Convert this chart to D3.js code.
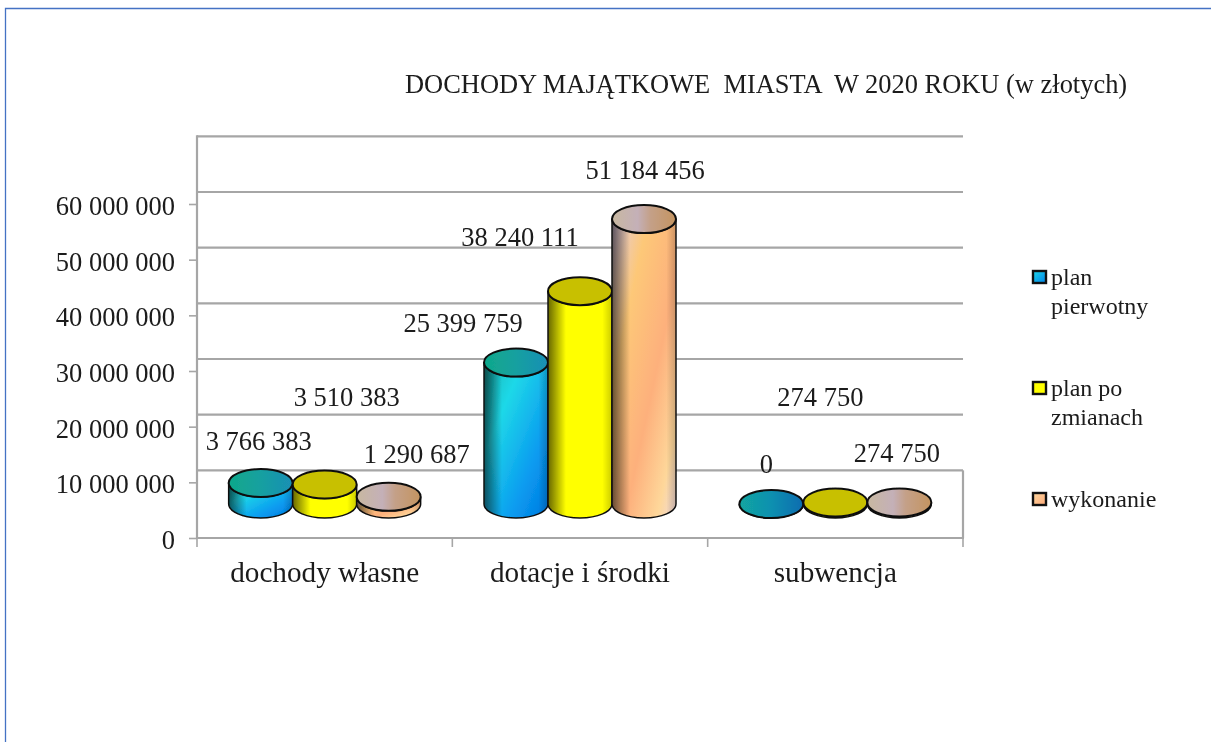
<!DOCTYPE html>
<html><head><meta charset="utf-8">
<style>html,body{margin:0;padding:0;background:#fff}svg{display:block}text{font-family:"Liberation Serif","Times New Roman",serif;fill:#1a1a1a}</style>
<script src="https://cdn.jsdelivr.net/npm/d3@7"></script></head><body>
<script>
const categories=["dochody własne","dotacje i środki","subwencja"];
const seriesNames=["plan pierwotny","plan po zmianach","wykonanie"];
const planPierwotny=[3766383,25399759,0];
const planPoZmianach=[3510383,38240111,274750];
const wykonanie=[1290687,51184456,274750];
const yTicks=[0,10000000,20000000,30000000,40000000,50000000,60000000];
const gridValues=[10000000,20000000,30000000,40000000,50000000,60000000,70000000];
const titleText="DOCHODY MAJĄTKOWE  MIASTA  W 2020 ROKU (w złotych)";

const W=1211,H=742;
const svg=d3.select("body").append("svg").attr("width",W).attr("height",H);
const defs=svg.append("defs");
function lin(id,x1,y1,x2,y2,stops){
  const g=defs.append("linearGradient").attr("id",id).attr("x1",x1).attr("y1",y1).attr("x2",x2).attr("y2",y2);
  stops.forEach(s=>g.append("stop").attr("offset",s[0]).attr("stop-color",s[1]).attr("stop-opacity",s[2]===undefined?1:s[2]));
}
lin("b0",0,0,1,1,[[0,"#12b5b0"],[.3,"#1fd8e8"],[.7,"#0a9cf0"],[1,"#0078e0"]]);
lin("t0",0,0,1,0,[[0,"#0fa88a"],[.5,"#17a0a0"],[1,"#1a8fb5"]]);
lin("t0z",0,0,1,0,[[0,"#12a5a0"],[.5,"#1090b0"],[1,"#0a6cb0"]]);
lin("b1",0,0,1,0,[[0,"#ffff00"],[1,"#ffff00"]]);
lin("t1",0,0,1,0,[[0,"#c8c000"],[1,"#c8c000"]]);
lin("b2",0,0,1,1,[[0,"#e0cce8"],[.28,"#fdc878"],[.6,"#fdb07c"],[.85,"#fed79a"],[1,"#f0d8d8"]]);
lin("t2",0,0,1,0,[[0,"#c8b8a0"],[.4,"#c4b0b8"],[.6,"#c4a088"],[1,"#c49460"]]);
lin("shade",0,0,1,0,[[0,"#000",.6],[.28,"#000",0],[.85,"#000",0],[1,"#000",.2]]);
lin("sw0",0,0,1,1,[[0,"#1fd8e8"],[1,"#0080e8"]]);
lin("sw1",0,0,1,1,[[0,"#ffff00"],[1,"#ffff00"]]);
lin("sw2",0,0,1,1,[[0,"#fdd8a0"],[1,"#fda878"]]);
const mkBlur=(id,sd)=>defs.append("filter").attr("id",id).attr("x","-5%").attr("y","-5%").attr("width","110%").attr("height","110%")
  .append("feGaussianBlur").attr("stdDeviation",sd);
mkBlur("soft",.5);mkBlur("softText",.35);

// page frame
svg.append("path").attr("d",`M5.5,${H}V8.5H${W}`).attr("fill","none").attr("stroke","#4472c4").attr("stroke-width",1.3);

const y=d3.scaleLinear().domain([0,60000000]).range([538,204]);
const wallShift=-12, baseShift=-34;
const x0=d3.scaleBand().domain(categories).range([197,963]);
const x1=d3.scaleBand().domain(d3.range(3)).range([x0.bandwidth()/2-96,x0.bandwidth()/2+96]);
const rx=32,ry=14;
const gridCol="#a6a6a6";
const fmt=d=>d3.format(",")(d).replace(/,/g," ");

const chart=svg.append("g").attr("filter","url(#soft)");
chart.append("g").selectAll("line").data(gridValues).join("line")
  .attr("x1",197).attr("x2",963).attr("y1",d=>y(d)+wallShift).attr("y2",d=>y(d)+wallShift)
  .attr("stroke",gridCol).attr("stroke-width",2.2);
chart.append("line").attr("x1",197).attr("x2",197).attr("y1",y(70000000)+wallShift-1).attr("y2",538).attr("stroke",gridCol).attr("stroke-width",2.2);
chart.append("line").attr("x1",963).attr("x2",963).attr("y1",y(10000000)+wallShift).attr("y2",538).attr("stroke",gridCol).attr("stroke-width",2.2);
chart.append("line").attr("x1",196).attr("x2",964).attr("y1",538).attr("y2",538).attr("stroke",gridCol).attr("stroke-width",2.2);

// y axis ticks + labels
const yAxis=d3.axisLeft(y).tickValues(yTicks).tickSize(8).tickPadding(14).tickFormat(fmt);
const ga=svg.append("g").attr("transform","translate(197,0)").attr("filter","url(#softText)").call(yAxis);
ga.select(".domain").remove();
ga.selectAll("line").attr("stroke",gridCol).attr("stroke-width",1.6);
ga.selectAll("text").attr("font-size",26.5).attr("fill","#1a1a1a").attr("dy","0.4em");

// x axis ticks + labels
const xTicks=[...categories.map(c=>x0(c)),963];
chart.append("g").selectAll("line").data(xTicks).join("line")
  .attr("x1",d=>d).attr("x2",d=>d).attr("y1",538).attr("y2",547).attr("stroke",gridCol).attr("stroke-width",1.6);
svg.append("g").attr("filter","url(#softText)").selectAll("text").data(categories).join("text")
  .attr("x",d=>x0(d)+x0.bandwidth()/2).attr("y",582).attr("text-anchor","middle").attr("font-size",29.2).text(d=>d);

// cylinders
const series=[planPierwotny,planPoZmianach,wykonanie];
const pts=[];
categories.forEach((c,ci)=>series.forEach((s,si)=>pts.push({c,ci,si,v:s[ci]})));
const cyl=chart.append("g").selectAll("g").data(pts).join("g");
const cx=d=>x0(d.c)+x1(d.si)+x1.bandwidth()/2;
const base=y(0)+baseShift;
const top_=d=>y(d.v)+baseShift;
const bodyPath=d=>`M${cx(d)-rx},${top_(d)}V${base}A${rx},${ry} 0 0 0 ${cx(d)+rx},${base}V${top_(d)}A${rx},${ry} 0 0 1 ${cx(d)-rx},${top_(d)}Z`;
cyl.append("path").attr("d",bodyPath).attr("fill",d=>`url(#b${d.si})`);
cyl.append("path").attr("d",bodyPath).attr("fill","url(#shade)").attr("stroke","#111").attr("stroke-width",1.5);
cyl.append("ellipse").attr("cx",cx).attr("cy",top_).attr("rx",rx).attr("ry",ry)
  .attr("fill",d=>d.v===0?"url(#t0z)":`url(#t${d.si})`).attr("stroke","#111").attr("stroke-width",2);

// data labels, hand-placed in the source chart: offset from each cylinder's top to the text baseline
const labelShift=[[-2,-33],[22,-78.5],[28,-34],[-53,-31],[-60,-45],[1,-40],[-5,-31],[-15,-96.5],[-2.5,-40.5]];
svg.append("g").attr("filter","url(#softText)").selectAll("text").data(pts).join("text")
  .attr("x",(d,i)=>cx(d)+labelShift[i][0]).attr("y",(d,i)=>top_(d)+labelShift[i][1])
  .attr("text-anchor","middle").attr("font-size",26.5)
  .text(d=>fmt(d.v));

// title
svg.append("text").attr("x",405).attr("y",93).attr("font-size",26.45).attr("filter","url(#softText)").style("white-space","pre").text(titleText);

// legend
const legendLines=[["plan","pierwotny"],["plan po","zmianach"],["wykonanie"]];
const legendY=[270,381,492];
const leg=svg.append("g").selectAll("g").data(seriesNames).join("g").attr("transform",(d,i)=>`translate(1032,${legendY[i]})`);
leg.append("rect").attr("x",1).attr("y",1).attr("width",13).attr("height",12).attr("fill",(d,i)=>`url(#sw${i})`).attr("stroke","#111").attr("stroke-width",2.4);
leg.each(function(d,i){
  d3.select(this).selectAll("text").data(legendLines[i]).join("text")
    .attr("x",19).attr("y",(t,j)=>15+j*28.5).attr("font-size",24).attr("filter","url(#softText)").text(t=>t);
});
</script></body></html>
